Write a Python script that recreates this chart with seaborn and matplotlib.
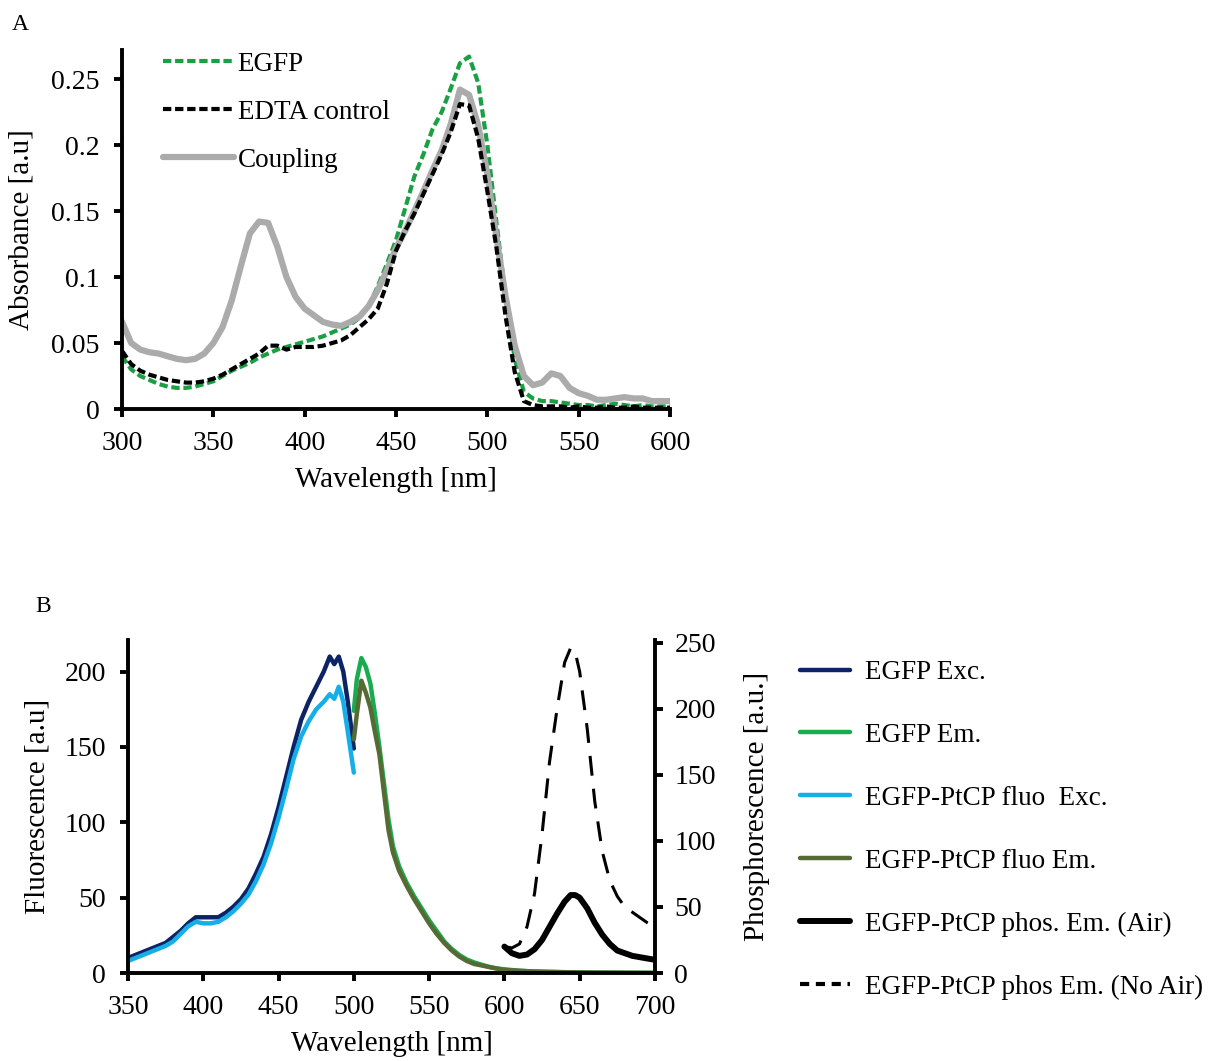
import numpy as np
import pandas as pd
import matplotlib
matplotlib.use("Agg")
import matplotlib.pyplot as plt
import seaborn as sns
from matplotlib.lines import Line2D

# ---------------- Panel A data (absorbance) ----------------
wl_a = [300, 305, 310, 315, 320, 325, 330, 335, 340, 345, 350, 355, 360, 365, 370,
        375, 380, 385, 390, 395, 400, 405, 410, 415, 420, 425, 430, 435, 440, 445,
        450, 455, 460, 465, 470, 475, 480, 485, 490, 495, 500, 505, 510, 515, 520,
        525, 530, 535, 540, 545, 550, 555, 560, 565, 570, 575, 580, 585, 590, 595, 600]
egfp_abs = [0.040, 0.030, 0.025, 0.022, 0.019, 0.017, 0.016, 0.016, 0.017, 0.019, 0.021,
            0.025, 0.029, 0.032, 0.035, 0.039, 0.042, 0.045, 0.047, 0.049, 0.051, 0.053,
            0.055, 0.058, 0.061, 0.064, 0.069, 0.078, 0.093, 0.110, 0.128, 0.152, 0.176,
            0.193, 0.212, 0.225, 0.243, 0.262, 0.267, 0.247, 0.200, 0.141, 0.085, 0.038,
            0.013, 0.008, 0.006, 0.006, 0.005, 0.004, 0.003, 0.003, 0.002, 0.003, 0.004,
            0.003, 0.002, 0.003, 0.002, 0.002, 0.002]
edta_abs = [0.044, 0.034, 0.029, 0.026, 0.024, 0.022, 0.021, 0.020, 0.020, 0.021, 0.023,
            0.026, 0.030, 0.034, 0.038, 0.042, 0.048, 0.048, 0.045, 0.047, 0.047, 0.047,
            0.048, 0.050, 0.052, 0.056, 0.062, 0.068, 0.076, 0.095, 0.120, 0.135, 0.148,
            0.163, 0.178, 0.193, 0.210, 0.231, 0.230, 0.205, 0.165, 0.122, 0.070, 0.028,
            0.006, 0.003, 0.002, 0.002, 0.002, 0.001, 0.002, 0.001, 0.001, 0.002, 0.001,
            0.001, 0.002, 0.001, 0.001, 0.001, 0.001]
coupling_abs = [0.066, 0.050, 0.045, 0.043, 0.042, 0.040, 0.038, 0.037, 0.038, 0.042,
                0.050, 0.062, 0.082, 0.108, 0.133, 0.142, 0.141, 0.123, 0.100, 0.085,
                0.076, 0.071, 0.066, 0.064, 0.063, 0.066, 0.070, 0.078, 0.090, 0.105,
                0.122, 0.135, 0.150, 0.165, 0.181, 0.196, 0.216, 0.242, 0.238, 0.215,
                0.178, 0.130, 0.085, 0.048, 0.025, 0.018, 0.020, 0.027, 0.025, 0.016,
                0.012, 0.010, 0.007, 0.007, 0.008, 0.009, 0.008, 0.008, 0.006, 0.006, 0.006]
a_labels = ["EGFP", "EDTA control", "Coupling"]
a_xticks = [300, 350, 400, 450, 500, 550, 600]
a_yticks = [0, 0.05, 0.1, 0.15, 0.2, 0.25]
a_yticklabels = ["0", "0.05", "0.1", "0.15", "0.2", "0.25"]

# ---------------- Panel B data (fluorescence / phosphorescence) ----------------
wl_exc = [350, 355, 360, 365, 370, 375, 380, 385, 390, 395, 400, 405, 410, 415, 420,
          425, 430, 435, 440, 445, 450, 455, 460, 465, 470, 475, 480, 484, 487, 490,
          493, 496, 500]
egfp_exc = [10, 12, 14, 16, 18, 20, 24, 28, 33, 37, 37, 37, 37, 40, 44, 49, 56, 66, 77,
            92, 110, 130, 150, 168, 180, 190, 200, 210, 205, 210, 200, 180, 149]
ptcp_exc = [8, 10, 12, 14, 16, 18, 21, 26, 31, 34, 33, 33, 34, 37, 41, 46, 52, 61, 72,
            86, 103, 122, 142, 157, 167, 175, 180, 185, 182, 190, 180, 160, 133]
wl_em = [500, 502, 505, 508, 511, 514, 517, 520, 523, 526, 530, 535, 540, 545, 550, 555,
         560, 565, 570, 575, 580, 585, 590, 595, 600, 610, 620, 640, 660, 680, 700]
egfp_em = [174, 195, 209, 203, 192, 172, 150, 126, 102, 84, 71, 60, 51, 43, 35, 28, 21,
           16, 12, 9, 7, 5.5, 4, 3, 2.5, 1.5, 1, 0.6, 0.3, 0.2, 0.1]
ptcp_em = [155, 172, 194, 186, 176, 160, 145, 120, 95, 80, 68, 58, 49, 41, 33, 26, 20,
           15, 11, 8, 6, 5, 4, 3, 2, 1.5, 1, 0.5, 0.3, 0.2, 0.1]
wl_phos = [600, 605, 610, 615, 620, 625, 630, 635, 640, 644, 647, 650, 655, 660, 665,
           670, 675, 680, 685, 690, 695, 700]
phos_air = [20, 15, 13, 14, 18, 25, 35, 45, 54, 59, 59, 57, 49, 38, 29, 22, 17, 15, 13,
            12, 11, 10]
phos_noair = [20, 19, 22, 35, 60, 105, 160, 200, 235, 246, 243, 228, 185, 130, 92, 70,
              58, 50, 46, 42, 38, 35]
b_labels = ["EGFP Exc.", "EGFP Em.", "EGFP-PtCP fluo  Exc.", "EGFP-PtCP fluo Em.",
            "EGFP-PtCP phos. Em. (Air)", "EGFP-PtCP phos Em. (No Air)"]
b_xticks = [350, 400, 450, 500, 550, 600, 650, 700]
b_yticks_left = [0, 50, 100, 150, 200]
b_yticks_right = [0, 50, 100, 150, 200, 250]

# ---------------- styling ----------------
sns.set_style("ticks")
plt.rcParams["font.family"] = ["Liberation Serif", "DejaVu Serif"]
plt.rcParams["text.color"] = "black"
plt.rcParams["axes.labelcolor"] = "black"

C_GREEN_A = "#1a9f45"
C_GRAY = "#ababab"
C_NAVY = "#0c2466"
C_GREEN = "#19ab50"
C_LBLUE = "#15aee8"
C_OLIVE = "#566a34"

fig = plt.figure(figsize=(12.12, 10.61), dpi=100)
axA = fig.add_axes([0.1007, 0.6145, 0.4521, 0.3384])
axB = fig.add_axes([0.1056, 0.0829, 0.4348, 0.3139])
axB2 = axB.twinx()

TICK_FS = 20
LAB_FS = 21


def style_axis(ax, sides, pad=10):
    for s in ["top", "right", "left", "bottom"]:
        ax.spines[s].set_visible(s in sides)
        ax.spines[s].set_linewidth(2.8)
        ax.spines[s].set_color("black")
    ax.tick_params(axis="both", direction="out", length=6, width=2.8,
                   labelsize=TICK_FS, colors="black", pad=pad)


# ---- Panel A ----
dfA = pd.DataFrame({"wl": wl_a, "egfp": egfp_abs, "edta": edta_abs, "coup": coupling_abs})
sns.lineplot(data=dfA, x="wl", y="egfp", ax=axA, color=C_GREEN_A, lw=3.0,
             linestyle=(0, (2.0, 0.9)), label=a_labels[0], estimator=None)
sns.lineplot(data=dfA, x="wl", y="edta", ax=axA, color="black", lw=3.0,
             linestyle=(0, (2.0, 0.9)), label=a_labels[1], estimator=None)
sns.lineplot(data=dfA, x="wl", y="coup", ax=axA, color=C_GRAY, lw=4.5,
             label=a_labels[2], estimator=None)
axA.lines[1].set_zorder(3)
axA.set_xlim(300, 600)
axA.set_ylim(0, 0.272)
axA.set_xticks(a_xticks)
axA.set_yticks(a_yticks)
axA.set_yticklabels(a_yticklabels)
style_axis(axA, ["left", "bottom"])
axA.set_xlabel("Wavelength [nm]", fontsize=LAB_FS, labelpad=8)
axA.set_ylabel("Absorbance [a.u]", fontsize=LAB_FS, labelpad=12)
legA = axA.legend(loc="upper left", bbox_to_anchor=(0.075, 0.995), frameon=False,
                  fontsize=19.5, handlelength=2.6, handletextpad=0.15, labelspacing=0.85,
                  borderpad=0, borderaxespad=0)
for t in legA.get_texts():
    t.set_color("black")

# ---- Panel B ----
sns.lineplot(x=wl_exc, y=egfp_exc, ax=axB, color=C_NAVY, lw=3.2, estimator=None)
sns.lineplot(x=wl_exc, y=ptcp_exc, ax=axB, color=C_LBLUE, lw=3.2, estimator=None)
sns.lineplot(x=wl_em, y=egfp_em, ax=axB, color=C_GREEN, lw=3.2, estimator=None)
sns.lineplot(x=wl_em, y=ptcp_em, ax=axB, color=C_OLIVE, lw=3.2, estimator=None)
sns.lineplot(x=wl_phos, y=phos_air, ax=axB2, color="black", lw=4.3, estimator=None)
sns.lineplot(x=wl_phos, y=phos_noair, ax=axB2, color="black", lw=2.2,
             linestyle=(0, (6.5, 4.3)), estimator=None)

axB.set_xlim(350, 700)
axB.set_ylim(0, 221)
axB2.set_ylim(0, 252)
axB.set_xticks(b_xticks)
axB.set_yticks(b_yticks_left)
axB2.set_yticks(b_yticks_right)
style_axis(axB, ["left", "bottom"])
style_axis(axB2, ["right"], pad=8)
axB2.spines["right"].set_visible(True)
axB.set_xlabel("Wavelength [nm]", fontsize=LAB_FS, labelpad=8)
axB.set_ylabel("Fluorescence [a.u]", fontsize=LAB_FS, labelpad=10)
axB2.set_ylabel("Phosphorescence [a.u.]", fontsize=LAB_FS, labelpad=20)

handles = [
    Line2D([], [], color=C_NAVY, lw=3.2, solid_capstyle="round"),
    Line2D([], [], color=C_GREEN, lw=3.2, solid_capstyle="round"),
    Line2D([], [], color=C_LBLUE, lw=3.2, solid_capstyle="round"),
    Line2D([], [], color=C_OLIVE, lw=3.2, solid_capstyle="round"),
    Line2D([], [], color="black", lw=4.3, solid_capstyle="round"),
    Line2D([], [], color="black", lw=3.0, linestyle=(0, (2.2, 1.6))),
]
legB = fig.legend(handles, b_labels, loc="upper left",
                  bbox_to_anchor=(800 / 1212, 1 - 660 / 1061), frameon=False,
                  fontsize=19.5, handlelength=1.85, handletextpad=0.55, labelspacing=1.40,
                  borderpad=0, borderaxespad=0)
for t in legB.get_texts():
    t.set_color("black")

fig.text(12 / 1212, 1 - 25 / 1061, "A", fontsize=17, va="center", ha="left", color="black")
fig.text(35 / 1212, 1 - 607 / 1061, "B", fontsize=17, va="center", ha="left", color="black")

fig.savefig("out.png", dpi=100)
